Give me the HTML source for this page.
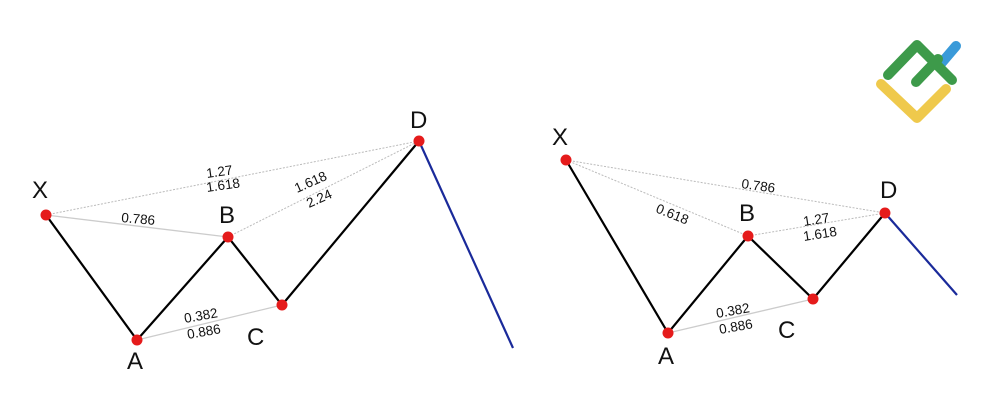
<!DOCTYPE html>
<html><head><style>
html,body{margin:0;padding:0;background:#fff;width:1000px;height:400px;overflow:hidden}
text{font-family:"Liberation Sans",sans-serif}
</style></head><body>
<svg width="1000" height="400" viewBox="0 0 1000 400">
<g stroke="#bbb" stroke-width="1" fill="none" stroke-dasharray="2,1.5">
<line x1="46" y1="215" x2="419" y2="141"/>
<line x1="228" y1="237" x2="419" y2="141"/>
<line x1="566" y1="160" x2="885" y2="213"/>
<line x1="748" y1="236" x2="885" y2="213"/>
<line x1="566" y1="160" x2="748" y2="236"/>
</g>
<g stroke="#ccc" stroke-width="1.3" fill="none">
<line x1="46" y1="215" x2="228" y2="237"/>
<line x1="137" y1="340" x2="282" y2="305"/>
<line x1="668" y1="333" x2="813" y2="299"/>
</g>
<polyline points="46,215 137,340 228,237 282,305 419,141" fill="none" stroke="#000" stroke-width="2.2"/>
<line x1="419" y1="141" x2="513" y2="348" stroke="#1a2a9a" stroke-width="2.2"/>
<polyline points="566,160 668,333 748,236 813,299 885,213" fill="none" stroke="#000" stroke-width="2.2"/>
<line x1="885" y1="213" x2="957" y2="295" stroke="#1a2a9a" stroke-width="2.2"/>
<g fill="#e51b1b">
<circle cx="46" cy="215" r="5.5"/><circle cx="137" cy="340" r="5.5"/><circle cx="228" cy="237" r="5.5"/><circle cx="282" cy="305" r="5.5"/><circle cx="419" cy="141" r="5.5"/>
<circle cx="566" cy="160" r="5.5"/><circle cx="668" cy="333" r="5.5"/><circle cx="748" cy="236" r="5.5"/><circle cx="813" cy="299" r="5.5"/><circle cx="885" cy="213" r="5.5"/>
</g>
<g font-size="24" fill="#111">
<text x="32" y="198">X</text><text x="127" y="369">A</text><text x="219" y="223">B</text><text x="247" y="345">C</text><text x="410" y="128">D</text>
<text x="552" y="145">X</text><text x="658" y="364">A</text><text x="739" y="221">B</text><text x="778" y="338">C</text><text x="880" y="198">D</text>
</g>
<g font-size="13.5" fill="#111">
<text x="207" y="178" transform="rotate(-8 207 178)">1.27</text>
<text x="207" y="192" transform="rotate(-8 207 192)">1.618</text>
<text x="121" y="222" transform="rotate(5 121 222)">0.786</text>
<text x="297" y="193" transform="rotate(-24 297 193)">1.618</text>
<text x="309" y="208" transform="rotate(-24 309 208)">2.24</text>
<text x="185" y="323" transform="rotate(-10 185 323)">0.382</text>
<text x="188" y="339" transform="rotate(-10 188 339)">0.886</text>
<text x="741" y="188" transform="rotate(8 741 188)">0.786</text>
<text x="655" y="212" transform="rotate(22 655 212)">0.618</text>
<text x="804" y="226" transform="rotate(-9 804 226)">1.27</text>
<text x="804" y="241" transform="rotate(-9 804 241)">1.618</text>
<text x="717" y="318" transform="rotate(-10 717 318)">0.382</text>
<text x="720" y="334" transform="rotate(-10 720 334)">0.886</text>
</g>
<g fill="none" stroke-linecap="round" stroke-linejoin="round" stroke-width="10">
<polyline points="881,84 917,118 946,89" stroke="#efc94c"/>
<line x1="939" y1="66" x2="956" y2="46" stroke="#3a9ad9"/>
<polyline points="888,75 917,45 952,80" stroke="#3d9a4a"/>
<line x1="916" y1="82" x2="938" y2="59" stroke="#3d9a4a"/>
</g>
</svg>
</body></html>
